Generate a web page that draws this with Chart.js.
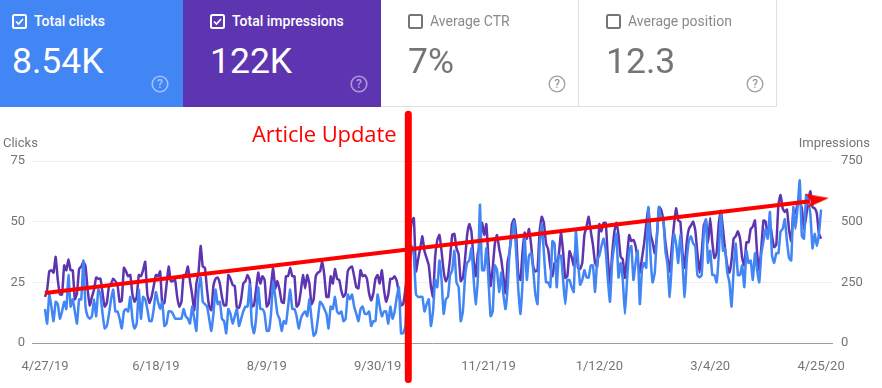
<!DOCTYPE html>
<html><head><meta charset="utf-8">
<script src="https://cdn.jsdelivr.net/npm/chart.js@4"></script>
<style>
html,body{margin:0;padding:0;background:#fff;width:882px;height:388px;overflow:hidden;font-family:Roboto,sans-serif}
#c{position:absolute;left:0;top:0}
.tile{position:absolute;top:0;height:107px;box-sizing:border-box}
.name{position:absolute;left:34px;top:13px;font-size:14px;font-weight:500;line-height:16px;white-space:nowrap}
.big{position:absolute;left:12px;top:39px;font-size:35.5px;line-height:44px;white-space:nowrap}
.cb{position:absolute;left:12px;top:14px}
.help{position:absolute;left:151px;top:75px}
.t{position:absolute;color:#757575;font-size:13px;line-height:14px;white-space:nowrap}
</style></head><body>
<canvas id="c" width="882" height="388" style="width:882px;height:388px"></canvas>
<div class="tile" style="left:0;width:183px;background:#4285f4;color:#fff"><svg class="cb" width="15" height="15"><rect x="1" y="1" width="13" height="13" rx="1.5" fill="none" stroke="#fff" stroke-width="2"/><path d="M4 7.5l2.5 2.5L11 5" fill="none" stroke="#fff" stroke-width="1.7"/></svg><div class="name">Total clicks</div><div class="big">8.54K</div><svg class="help" width="18" height="18"><circle cx="9" cy="9" r="7.8" fill="none" stroke="#fff" stroke-opacity=".5" stroke-width="1.6"/><text x="9" y="13" text-anchor="middle" font-size="12" font-weight="500" fill="#fff" fill-opacity=".5">?</text></svg></div>
<div class="tile" style="left:183px;width:198px;background:#5e35b1;color:#fff"><svg class="cb" style="left:27px" width="15" height="15"><rect x="1" y="1" width="13" height="13" rx="1.5" fill="none" stroke="#fff" stroke-width="2"/><path d="M4 7.5l2.5 2.5L11 5" fill="none" stroke="#fff" stroke-width="1.7"/></svg><div class="name" style="left:49px">Total impressions</div><div class="big" style="left:27px">122K</div><svg class="help" style="left:167px" width="18" height="18"><circle cx="9" cy="9" r="7.8" fill="none" stroke="#fff" stroke-opacity=".5" stroke-width="1.6"/><text x="9" y="13" text-anchor="middle" font-size="12" font-weight="500" fill="#fff" fill-opacity=".5">?</text></svg></div>
<div class="tile" style="left:381px;width:198px;border-bottom:1px solid #e0e0e0;border-right:1px solid #e0e0e0;color:#757575"><svg class="cb" style="left:27px" width="15" height="15"><rect x="1" y="1" width="13" height="13" rx="1.5" fill="none" stroke="#757575" stroke-width="2"/></svg><div class="name" style="left:49px;font-weight:400;color:#8a8a8a">Average CTR</div><div class="big" style="left:27px">7%</div><svg class="help" style="left:167px" width="18" height="18"><circle cx="9" cy="9" r="7.8" fill="none" stroke="#9e9e9e" stroke-width="1.3"/><text x="9" y="13" text-anchor="middle" font-size="12" fill="#8a8a8a">?</text></svg></div>
<div class="tile" style="left:579px;width:198px;border-bottom:1px solid #e0e0e0;border-right:1px solid #e0e0e0;color:#757575"><svg class="cb" style="left:27px" width="15" height="15"><rect x="1" y="1" width="13" height="13" rx="1.5" fill="none" stroke="#757575" stroke-width="2"/></svg><div class="name" style="left:49px;font-weight:400;color:#8a8a8a">Average position</div><div class="big" style="left:27px">12.3</div><svg class="help" style="left:167px" width="18" height="18"><circle cx="9" cy="9" r="7.8" fill="none" stroke="#9e9e9e" stroke-width="1.3"/><text x="9" y="13" text-anchor="middle" font-size="12" fill="#8a8a8a">?</text></svg></div>
<div class="t" style="left:3px;top:136px">Clicks</div>
<div class="t" style="right:12px;top:136px">Impressions</div>
<div style="position:absolute;left:252px;top:118px;color:#f00;font:22px/30px 'Open Sans',sans-serif;white-space:nowrap;letter-spacing:-.1px">Article Update</div>
<script>
const tickDays=[0,52,104,156,208,260,312,364];
const tickLabels=['4/27/19','6/18/19','8/9/19','9/30/19','11/21/19','1/12/20','3/4/20','4/25/20'];
const leftTicks=[0,25,50,75];
const rightTicks=[0,250,500,750];
const clicks=[
14,8,20,15,9,17,16,10,13,17,
14,28,15,18,13,8,18,18,34,15,
11,10,11,18,11,22,20,12,6,7,
12,18,22,13,13,10,6,13,14,13,
19,10,6,8,22,10,19,18,14,9,
9,14,21,17,14,17,7,8,13,13,
12,10,10,10,10,14,11,10,8,15,
10,5,22,27,17,16,15,10,5,12,
22,16,17,10,9,4,14,12,8,11,
14,7,10,13,15,15,24,8,4,10,
23,14,14,12,5,5,12,25,19,12,
10,5,9,8,15,22,14,14,11,6,
10,12,13,11,18,10,3,4,10,17,
16,14,12,6,15,14,19,13,12,13,
9,10,20,18,20,15,12,9,14,15,
12,12,13,7,9,9,20,15,11,13,
13,8,15,10,13,19,23,4,4,7,
22,32,40,36,20,19,19,19,13,16,
18,7,13,26,23,34,26,12,18,19,
28,30,38,25,23,9,13,27,33,34,
39,27,16,26,57,30,30,39,26,11,
13,32,30,21,29,20,14,23,39,44,
50,37,22,12,25,44,26,36,37,30,
20,16,40,49,37,25,25,23,42,41,
23,36,36,26,16,26,26,23,21,46,
34,24,26,30,27,27,32,32,21,34,
36,40,43,38,26,17,33,40,45,27,
33,26,12,26,38,40,26,33,38,16,
30,33,31,56,36,25,29,44,56,51,
51,38,32,19,33,45,41,33,45,33,
19,34,42,44,41,40,28,27,28,45,
51,33,38,28,28,25,36,54,38,39,
29,25,15,30,41,28,28,32,23,38,
33,34,26,37,30,25,37,42,47,43,
54,36,33,37,37,46,47,51,42,35,
34,56,47,56,67,44,43,61,58,53,
39,45,40,45,55];
const impressions=[
190,220,295,300,290,355,260,200,200,320,
300,345,300,300,180,205,305,315,335,315,
220,155,190,220,270,265,265,205,150,165,
235,245,265,255,240,170,175,310,295,275,
280,200,170,190,280,275,300,335,200,165,
190,235,280,275,295,160,165,240,315,255,
255,260,190,150,170,280,280,315,255,200,
135,245,290,400,315,310,220,150,135,235,
265,270,245,190,155,155,280,265,240,235,
145,145,180,245,255,280,260,150,155,220,
290,245,275,260,150,165,235,310,225,255,
220,170,165,275,275,310,275,275,150,160,
215,280,225,280,245,160,180,275,290,295,
335,280,190,190,275,245,305,265,260,215,
190,205,295,310,315,275,230,225,300,275,
280,265,205,175,205,265,280,245,300,220,
170,200,265,265,275,255,205,155,160,220,
300,420,500,515,295,345,390,440,378,350,
320,235,190,355,425,445,378,295,255,275,
350,445,450,390,365,255,268,345,445,490,
460,345,275,370,405,495,445,490,345,235,
310,410,445,390,345,275,205,335,378,490,
510,445,280,260,378,455,430,470,405,315,
295,300,460,520,495,410,385,315,275,330,
335,365,455,378,268,275,378,355,320,400,
310,305,330,445,480,520,460,405,330,315,
490,460,495,495,350,245,365,455,495,445,
355,345,268,355,445,420,425,400,340,290,
350,410,490,555,450,415,370,440,560,550,
505,415,350,295,395,485,555,505,500,375,
310,415,470,485,500,465,370,290,370,485,
505,415,515,415,350,370,490,545,470,385,
320,290,340,430,440,460,430,350,320,415,
415,470,480,505,370,300,395,505,500,440,
500,440,395,405,570,610,555,540,550,465,
420,535,535,575,580,555,470,520,590,625,
560,555,535,450,430];
const trendDays=[0,358.8];
const trendValues=[20.6,58.4];
const updateDays=[170.4,170.4];
const updateValues=[94.3,-15];

function pts(xs,ys){return ys.map((y,i)=>({x:xs?xs[i]:i,y}));}
const head=document.createElement('canvas');head.width=40;head.height=20;
(()=>{const g=head.getContext('2d');g.translate(20,10);g.fillStyle='#f00';g.beginPath();
g.moveTo(-5,-7.5);g.lineTo(19,-3.2);g.lineTo(-3.3,6.8);g.lineTo(1.7,.2);g.closePath();g.fill();})();

new Chart(document.getElementById('c'),{
 type:'line',
 data:{datasets:[
  {label:'Article update',data:pts(updateDays,updateValues),yAxisID:'y',borderColor:'#f00',borderWidth:7,borderCapStyle:'round',pointRadius:0,clip:false,order:0},
  {label:'Trend',data:pts(trendDays,trendValues),yAxisID:'y',borderColor:'#f00',borderWidth:4,pointRadius:c=>c.dataIndex===1?10:0,pointStyle:head,clip:false,order:0},
  {label:'Clicks',data:pts(null,clicks),yAxisID:'y',borderColor:'#4285f4',borderWidth:2.5,pointRadius:0,tension:.15,borderJoinStyle:'round',clip:false,order:1},
  {label:'Impressions',data:pts(null,impressions),yAxisID:'y2',borderColor:'#5e35b1',borderWidth:2.5,pointRadius:0,tension:.15,borderJoinStyle:'round',clip:false,order:2}
 ]},
 options:{
  responsive:false,animation:false,
  layout:{padding:{top:161,left:0,right:0,bottom:0}},
  plugins:{legend:{display:false},tooltip:{enabled:false},title:{display:false}},
  scales:{
   x:{type:'linear',min:-6.1,max:369.6,
      afterBuildTicks:s=>{s.ticks=tickDays.map(v=>({value:v}));},
      afterFit:s=>{s.height=45;},
      grid:{display:false,drawTicks:false},border:{display:false},
      ticks:{autoSkip:false,maxRotation:0,padding:16,color:'#757575',font:{family:'Roboto',size:13},
        callback:v=>tickLabels[tickDays.indexOf(v)]}},
   y:{position:'left',min:0,max:75,
      afterBuildTicks:s=>{s.ticks=leftTicks.map(v=>({value:v}));},
      afterFit:s=>{s.width=32;},
      grid:{color:c=>c.tick.value===0?'#9e9e9e':'#eeeeee',drawTicks:false},border:{display:false},
      ticks:{padding:7,color:'#757575',font:{family:'Roboto',size:13}}},
   y2:{position:'right',min:0,max:750,
      afterBuildTicks:s=>{s.ticks=rightTicks.map(v=>({value:v}));},
      afterFit:s=>{s.width=49;},
      grid:{display:false,drawTicks:false},border:{display:false},
      ticks:{padding:8,color:'#757575',font:{family:'Roboto',size:13}}}
  }
 }
});
</script>
</body></html>
